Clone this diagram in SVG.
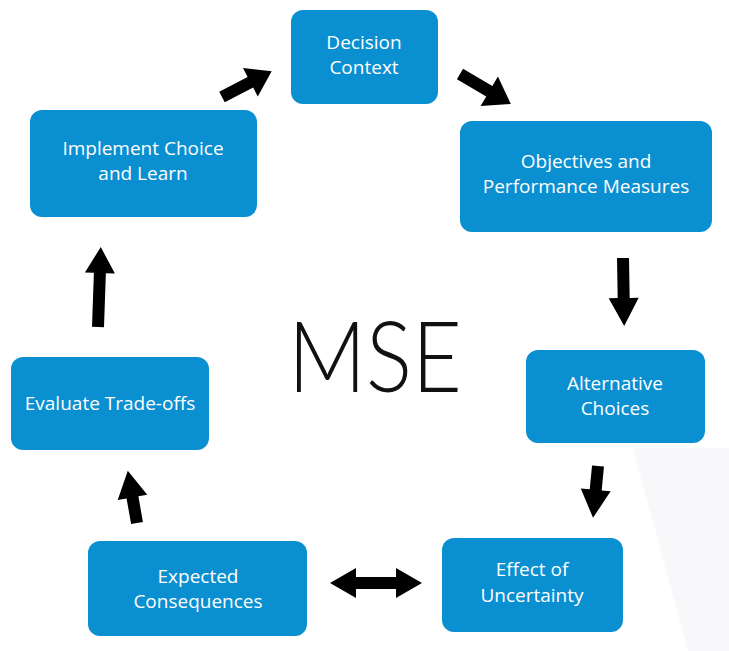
<svg xmlns="http://www.w3.org/2000/svg" width="729" height="651" viewBox="0 0 729 651">
  <style>
    .box { fill: #0a8fd1; }
    .lbl { font-family: "Open Sans", Lato, sans-serif; font-size: 19px; fill: #ffffff; text-anchor: middle; }
    .arr { fill: #000000; }
    .title { font-family: Lato, "Liberation Sans", sans-serif; font-weight: 300; font-size: 98px; fill: #111111; }
  </style>
  <rect width="729" height="651" fill="#ffffff"/>
  <!-- faint backdrop panel at lower right -->
  <polygon points="633,448 729,448 729,651 688,651" fill="#f8f8fa"/>

  <text class="title" x="288" y="392" textLength="174" lengthAdjust="spacingAndGlyphs">MSE</text>

  <g id="decision-context">
    <rect class="box" x="291" y="10" width="147" height="94" rx="12"/>
    <text class="lbl" x="364" y="49">Decision</text>
    <text class="lbl" x="364" y="74">Context</text>
  </g>
  <g id="objectives">
    <rect class="box" x="460" y="121" width="252" height="111" rx="12"/>
    <text class="lbl" x="586" y="168">Objectives and</text>
    <text class="lbl" x="586" y="193">Performance Measures</text>
  </g>
  <g id="alternative-choices">
    <rect class="box" x="526" y="350" width="179" height="93" rx="12"/>
    <text class="lbl" x="615" y="390">Alternative</text>
    <text class="lbl" x="615" y="415">Choices</text>
  </g>
  <g id="effect-of-uncertainty">
    <rect class="box" x="442" y="538" width="181" height="94" rx="12"/>
    <text class="lbl" x="532" y="576">Effect of</text>
    <text class="lbl" x="532" y="602">Uncertainty</text>
  </g>
  <g id="expected-consequences">
    <rect class="box" x="88" y="541" width="219" height="95" rx="12"/>
    <text class="lbl" x="198" y="583">Expected</text>
    <text class="lbl" x="198" y="608">Consequences</text>
  </g>
  <g id="evaluate-trade-offs">
    <rect class="box" x="11" y="357" width="198" height="93" rx="12"/>
    <text class="lbl" x="110" y="410">Evaluate Trade-offs</text>
  </g>
  <g id="implement-choice">
    <rect class="box" x="30" y="110" width="227" height="107" rx="12"/>
    <text class="lbl" x="143" y="155">Implement Choice</text>
    <text class="lbl" x="143" y="180">and Learn</text>
  </g>

  <g id="connectors">
    <!-- Implement -> Decision -->
    <polygon class="arr" transform="translate(222,97) rotate(-27.5)" points="0,-6 32,-6 32,-16 56,0 32,16 32,6 0,6"/>
    <!-- Decision -> Objectives -->
    <polygon class="arr" transform="translate(460,74) rotate(30.5)" points="0,-6 34,-6 34,-17 59,0 34,17 34,6 0,6"/>
    <!-- Objectives -> Alternatives -->
    <polygon class="arr" transform="translate(623,258) rotate(89)" points="0,-6 40,-6 40,-15 68,0 40,15 40,6 0,6"/>
    <!-- Alternatives -> Uncertainty -->
    <polygon class="arr" transform="translate(598,466) rotate(95.5)" points="0,-6 24,-6 24,-15 52,0 24,15 24,6 0,6"/>
    <!-- Uncertainty <-> Consequences -->
    <polygon class="arr" points="330,583 356,568 356,577 396,577 396,568 422,583 396,598 396,589 356,589 356,598"/>
    <!-- Consequences -> Trade-offs -->
    <polygon class="arr" transform="translate(137,523) rotate(-100)" points="0,-6 26,-6 26,-15 53,0 26,15 26,6 0,6"/>
    <!-- Trade-offs -> Implement -->
    <polygon class="arr" transform="translate(98,327) rotate(-88)" points="0,-6 54,-6 54,-15 80,0 54,15 54,6 0,6"/>
  </g>
</svg>
